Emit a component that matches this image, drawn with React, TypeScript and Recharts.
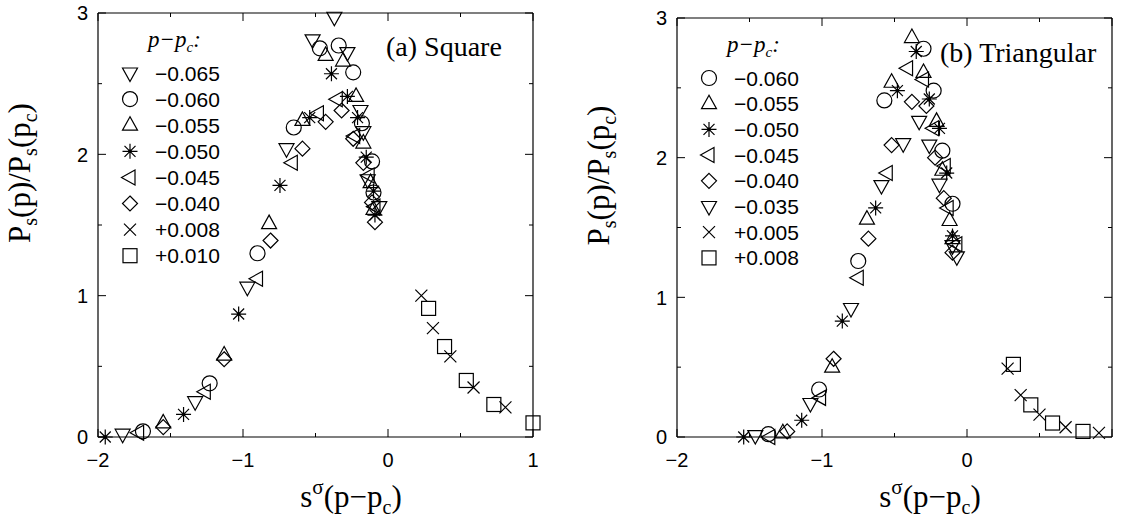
import { ScatterChart, Scatter, XAxis, YAxis, Legend, ReferenceLine } from "recharts"

type Pt = [number, number]
type Kind = "triDown" | "circle" | "triUp" | "star" | "triLeft" | "diamond" | "cross" | "square"

// (a) square lattice, one list per p - pc
const sqM065: Pt[] = [[-1.83, 0.02], [-1.33, 0.25], [-0.97, 1.06], [-0.7, 2.04], [-0.52, 2.81], [-0.37, 2.97], [-0.28, 2.72], [-0.19, 2.31], [-0.17, 2.16], [-0.14, 1.82], [-0.06, 1.63]]
const sqM060: Pt[] = [[-1.69, 0.04], [-1.23, 0.38], [-0.9, 1.3], [-0.65, 2.19], [-0.47, 2.75], [-0.34, 2.77], [-0.24, 2.58], [-0.18, 2.22], [-0.11, 1.95], [-0.1, 1.73]]
const sqM055: Pt[] = [[-1.55, 0.1], [-1.13, 0.58], [-0.82, 1.51], [-0.59, 2.24], [-0.43, 2.7], [-0.31, 2.66], [-0.22, 2.41], [-0.17, 2.08], [-0.12, 1.8], [-0.1, 1.61]]
const sqM050: Pt[] = [[-1.95, 0], [-1.41, 0.16], [-1.03, 0.87], [-0.745, 1.78], [-0.54, 2.26], [-0.39, 2.57], [-0.28, 2.41], [-0.21, 2.26], [-0.15, 1.98], [-0.1, 1.74], [-0.09, 1.57]]
const sqM045: Pt[] = [[-1.72, 0.03], [-1.26, 0.32], [-0.9, 1.12], [-0.66, 1.94], [-0.48, 2.29], [-0.35, 2.39], [-0.23, 2.13], [-0.13, 1.85], [-0.09, 1.63]]
const sqM040: Pt[] = [[-1.55, 0.07], [-1.13, 0.55], [-0.81, 1.39], [-0.59, 2.04], [-0.43, 2.23], [-0.32, 2.31], [-0.24, 2.11], [-0.17, 1.94], [-0.11, 1.66], [-0.09, 1.52]]
const sqP008: Pt[] = [[0.23, 1.0], [0.31, 0.77], [0.43, 0.57], [0.59, 0.35], [0.81, 0.21]]
const sqP010: Pt[] = [[0.28, 0.91], [0.39, 0.64], [0.54, 0.4], [0.73, 0.23], [1.0, 0.1]]

// (b) triangular lattice
const trM060: Pt[] = [[-1.37, 0.02], [-1.02, 0.34], [-0.75, 1.26], [-0.57, 2.41], [-0.3, 2.78], [-0.23, 2.48], [-0.17, 2.05], [-0.1, 1.67]]
const trM055: Pt[] = [[-1.27, 0.03], [-0.93, 0.5], [-0.69, 1.56], [-0.52, 2.54], [-0.38, 2.86], [-0.3, 2.61], [-0.21, 2.26], [-0.17, 1.91], [-0.12, 1.55], [-0.1, 1.42]]
const trM050: Pt[] = [[-1.54, 0], [-1.14, 0.12], [-0.86, 0.83], [-0.63, 1.64], [-0.48, 2.48], [-0.35, 2.76], [-0.26, 2.42], [-0.19, 2.21], [-0.14, 1.89], [-0.1, 1.44]]
const trM045: Pt[] = [[-1.36, 0], [-1.01, 0.28], [-0.75, 1.14], [-0.55, 1.89], [-0.41, 2.64], [-0.3, 2.56], [-0.23, 2.21], [-0.15, 1.94], [-0.13, 1.64], [-0.07, 1.38]]
const trM040: Pt[] = [[-1.24, 0.04], [-0.92, 0.56], [-0.68, 1.42], [-0.52, 2.09], [-0.38, 2.4], [-0.28, 2.37], [-0.22, 2.0], [-0.16, 1.71], [-0.1, 1.32]]
const trM035: Pt[] = [[-1.46, 0.01], [-1.08, 0.24], [-0.8, 0.92], [-0.59, 1.8], [-0.44, 2.1], [-0.33, 2.26], [-0.26, 2.09], [-0.19, 1.81], [-0.1, 1.37], [-0.07, 1.29]]
const trP005: Pt[] = [[0.28, 0.49], [0.37, 0.3], [0.5, 0.16], [0.68, 0.07], [0.91, 0.03]]
const trP008: Pt[] = [[0.32, 0.52], [0.44, 0.23], [0.59, 0.1], [0.8, 0.04]]

const sqLabels = ["−0.065", "−0.060", "−0.055", "−0.050", "−0.045", "−0.040", "+0.008", "+0.010"]
const triLabels = ["−0.060", "−0.055", "−0.050", "−0.045", "−0.040", "−0.035", "+0.005", "+0.008"]
const sqKinds: Kind[] = ["triDown", "circle", "triUp", "star", "triLeft", "diamond", "cross", "square"]
const triKinds: Kind[] = ["circle", "triUp", "star", "triLeft", "diamond", "triDown", "cross", "square"]

const xTicks = [-2, -1.5, -1, -0.5, 0, 0.5, 1]
const yTicks = [0, 0.5, 1, 1.5, 2, 2.5, 3]

const SANS = "'Liberation Sans', Arial, sans-serif"
const SERIF = "'Liberation Serif', 'Times New Roman', serif"

function Marker({ kind, cx, cy }: { kind: Kind; cx: number; cy: number }) {
  const s = { fill: "none", stroke: "#000", strokeWidth: 1.2 }
  switch (kind) {
    case "circle":
      return <circle cx={cx} cy={cy} r={7.5} {...s} />
    case "triUp":
      return <polygon points={`${cx},${cy - 8.5} ${cx - 7.5},${cy + 5} ${cx + 7.5},${cy + 5}`} {...s} />
    case "triDown":
      return <polygon points={`${cx - 7.5},${cy - 5} ${cx + 7.5},${cy - 5} ${cx},${cy + 8.5}`} {...s} />
    case "triLeft":
      return <polygon points={`${cx - 8.5},${cy} ${cx + 5},${cy - 7.5} ${cx + 5},${cy + 7.5}`} {...s} />
    case "diamond":
      return <polygon points={`${cx},${cy - 7.5} ${cx + 7.5},${cy} ${cx},${cy + 7.5} ${cx - 7.5},${cy}`} {...s} />
    case "square":
      return <rect x={cx - 7} y={cy - 7} width={14} height={14} {...s} />
    case "cross":
      return <path d={`M${cx - 6},${cy - 6}L${cx + 6},${cy + 6}M${cx - 6},${cy + 6}L${cx + 6},${cy - 6}`} {...s} />
    case "star":
      return (
        <g>
          <path
            d={`M${cx - 7.5},${cy}H${cx + 7.5}M${cx},${cy - 7.5}V${cy + 7.5}M${cx - 5.5},${cy - 5.5}L${cx + 5.5},${cy + 5.5}M${cx - 5.5},${cy + 5.5}L${cx + 5.5},${cy - 5.5}`}
            {...s}
          />
          <circle cx={cx} cy={cy} r={1.8} fill="#000" />
        </g>
      )
  }
}

const fmt = (v: number) => (v < 0 ? `−${Math.abs(v)}` : `${v}`)

type PanelProps = {
  left: number
  width: number
  plotLeft: number
  plotRight: number
  plotTop: number
  plotBottom: number
  names: string[]
  kinds: Kind[]
  series: Pt[][]
  legendX: number
  legendY: number
  rowGap: number
  tag: string
  tagX: number
  tagY: number
  showOne: boolean
}

function Panel(p: PanelProps) {
  const height = 523
  const { plotLeft: x0, plotRight: x1, plotTop: y0, plotBottom: y1 } = p

  // inward ticks on both the bottom and top edges
  const xTick = (t: any) => {
    const v = t.payload.value
    const major = Number.isInteger(v)
    const len = major ? 8 : 4
    return (
      <g>
        <line x1={t.x} x2={t.x} y1={y1} y2={y1 - len} stroke="#000" />
        <line x1={t.x} x2={t.x} y1={y0} y2={y0 + len} stroke="#000" />
        {major && (v !== 1 || p.showOne) && (
          <text x={t.x} y={y1 + 30} textAnchor="middle" fontFamily={SANS} fontSize={20} fill="#000">
            {fmt(v)}
          </text>
        )}
      </g>
    )
  }

  // inward ticks on both the left and right edges
  const yTick = (t: any) => {
    const v = t.payload.value
    const major = Number.isInteger(v)
    const len = major ? 8 : 4
    return (
      <g>
        <line x1={x0} x2={x0 + len} y1={t.y} y2={t.y} stroke="#000" />
        <line x1={x1} x2={x1 - len} y1={t.y} y2={t.y} stroke="#000" />
        {major && (
          <text x={x0 - 10} y={t.y} dy="0.36em" textAnchor="end" fontFamily={SANS} fontSize={20} fill="#000">
            {v}
          </text>
        )}
      </g>
    )
  }

  const legend = () => (
    <svg width={p.width} height={height} style={{ position: "absolute", left: 0, top: 0 }}>
      <text x={p.legendX + 18} y={p.legendY - 26} fontFamily={SERIF} fontStyle="italic" fontSize={23}>
        p−p
        <tspan dy={5} fontSize={15}>
          c
        </tspan>
        <tspan dy={-5}>:</tspan>
      </text>
      {p.names.map((n, i) => (
        <g key={n}>
          <Marker kind={p.kinds[i]} cx={p.legendX} cy={p.legendY + i * p.rowGap} />
          <text x={p.legendX + 25} y={p.legendY + i * p.rowGap} dy="0.36em" fontFamily={SANS} fontSize={21}>
            {n}
          </text>
        </g>
      ))}
      <text x={p.tagX} y={p.tagY} fontFamily={SERIF} fontSize={28}>
        {p.tag}
      </text>
      <text
        transform={`translate(${x0 - 68},${(y0 + y1) / 2 - 52}) rotate(-90)`}
        textAnchor="middle"
        fontFamily={SERIF}
        fontSize={31}
      >
        P<tspan dy={7} fontSize={20}>s</tspan>
        <tspan dy={-7}>(p)/P</tspan>
        <tspan dy={7} fontSize={20}>s</tspan>
        <tspan dy={-7}>(p</tspan>
        <tspan dy={7} fontSize={20}>c</tspan>
        <tspan dy={-7}>)</tspan>
      </text>
      <text x={x0 + 253} y={507} textAnchor="middle" fontFamily={SERIF} fontSize={31}>
        s<tspan dy={-13} fontSize={21}>σ</tspan>
        <tspan dy={13}>(p−p</tspan>
        <tspan dy={7} fontSize={20}>c</tspan>
        <tspan dy={-7}>)</tspan>
      </text>
    </svg>
  )

  return (
    <div style={{ position: "absolute", left: p.left, top: 0 }}>
      <ScatterChart
        width={p.width}
        height={height}
        margin={{ top: y0, right: p.width - x1, bottom: 0, left: 0 }}
      >
        <XAxis
          type="number"
          dataKey="x"
          domain={[-2, 1]}
          ticks={xTicks}
          interval={0}
          height={height - y1}
          tickSize={0}
          tickMargin={0}
          tickLine={false}
          tick={xTick}
          axisLine={{ stroke: "#000", strokeWidth: 1.2 }}
        />
        <YAxis
          type="number"
          dataKey="y"
          domain={[0, 3]}
          ticks={yTicks}
          interval={0}
          width={x0}
          tickSize={0}
          tickMargin={0}
          tickLine={false}
          tick={yTick}
          axisLine={{ stroke: "#000", strokeWidth: 1.2 }}
        />
        <ReferenceLine y={3} stroke="#000" strokeWidth={1.2} />
        <ReferenceLine x={1} stroke="#000" strokeWidth={1.2} />
        <Legend
          layout="vertical"
          align="center"
          verticalAlign="middle"
          content={legend}
          wrapperStyle={{ position: "absolute", left: 0, top: 0, width: p.width, height }}
        />
        {p.series.map((pts, i) => (
          <Scatter
            key={p.names[i]}
            name={p.names[i]}
            data={pts.map(([x, y]) => ({ x, y }))}
            isAnimationActive={false}
            shape={(s: any) => <Marker kind={p.kinds[i]} cx={s.cx} cy={s.cy} />}
          />
        ))}
      </ScatterChart>
    </div>
  )
}

export default function App() {
  return (
    <div style={{ position: "absolute", left: 0, top: 0, width: 1121, height: 523, background: "#fff" }}>
      <Panel
        left={0}
        width={560}
        plotLeft={98}
        plotRight={533}
        plotTop={13}
        plotBottom={437}
        names={sqLabels}
        kinds={sqKinds}
        series={[sqM065, sqM060, sqM055, sqM050, sqM045, sqM040, sqP008, sqP010]}
        legendX={130}
        legendY={73}
        rowGap={26.1}
        tag="(a) Square"
        tagX={386}
        tagY={56}
        showOne
      />
      <Panel
        left={560}
        width={561}
        plotLeft={117}
        plotRight={552}
        plotTop={18}
        plotBottom={437}
        names={triLabels}
        kinds={triKinds}
        series={[trM060, trM055, trM050, trM045, trM040, trM035, trP005, trP008]}
        legendX={149}
        legendY={78}
        rowGap={25.7}
        tag="(b) Triangular"
        tagX={380}
        tagY={62}
        showOne={false}
      />
    </div>
  )
}
